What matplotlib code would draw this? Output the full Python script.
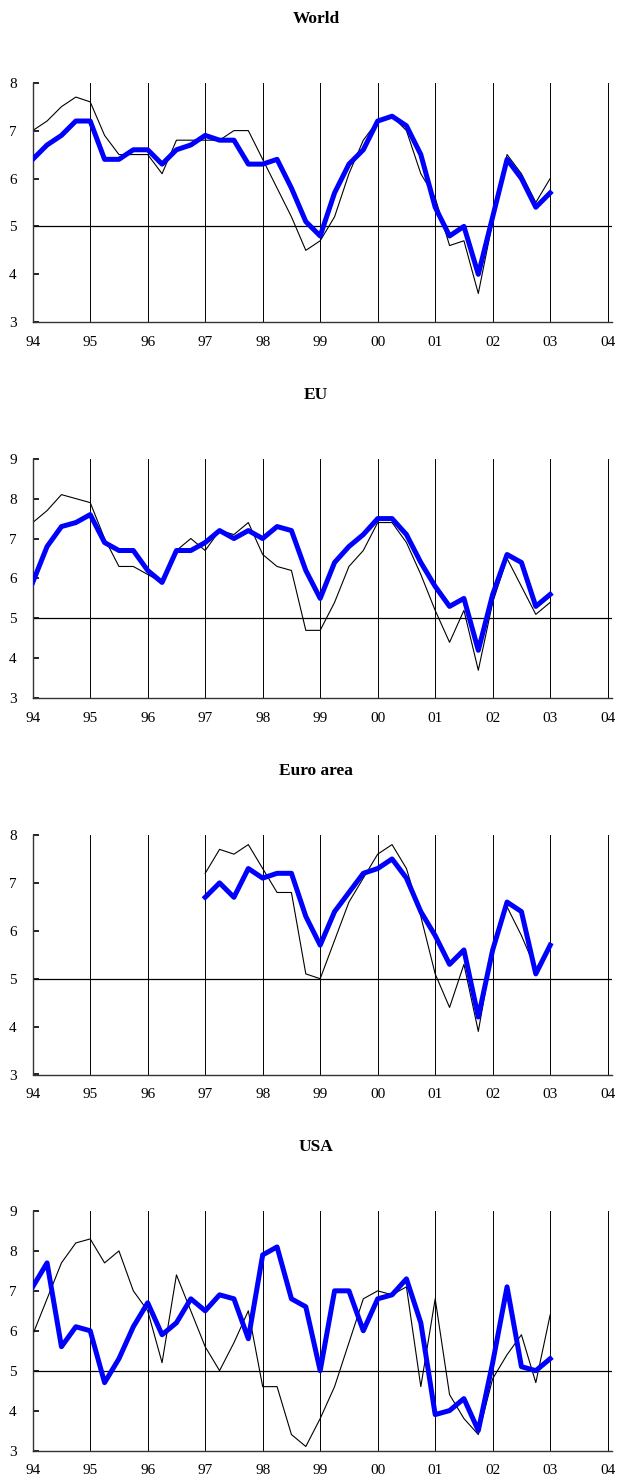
import numpy as np
import matplotlib
matplotlib.use("Agg")
import matplotlib.pyplot as plt

# quarterly observations, 94Q1 .. 03Q1
quarters = np.arange(37) * 0.25 + 1994
year_ticks = list(range(1994, 2005))
year_labels = ["94", "95", "96", "97", "98", "99", "00", "01", "02", "03", "04"]

titles = ["World", "EU", "Euro area", "USA"]

world_blue = [6.4, 6.7, 6.9, 7.2, 7.2, 6.4, 6.4, 6.6, 6.6, 6.3, 6.6, 6.7, 6.9,
              6.8, 6.8, 6.3, 6.3, 6.4, 5.8, 5.1, 4.8, 5.7, 6.3, 6.6, 7.2, 7.3,
              7.1, 6.5, 5.4, 4.8, 5.0, 4.0, 5.2, 6.4, 6.0, 5.4, 5.7]
world_black = [7.0, 7.2, 7.5, 7.7, 7.6, 6.9, 6.5, 6.5, 6.5, 6.1, 6.8, 6.8, 6.8,
               6.8, 7.0, 7.0, 6.4, 5.8, 5.2, 4.5, 4.7, 5.2, 6.1, 6.8, 7.2, 7.3,
               7.0, 6.1, 5.6, 4.6, 4.7, 3.6, 5.1, 6.5, 6.1, 5.5, 6.0]

eu_blue = [5.9, 6.8, 7.3, 7.4, 7.6, 6.9, 6.7, 6.7, 6.2, 5.9, 6.7, 6.7, 6.9,
           7.2, 7.0, 7.2, 7.0, 7.3, 7.2, 6.2, 5.5, 6.4, 6.8, 7.1, 7.5, 7.5,
           7.1, 6.4, 5.8, 5.3, 5.5, 4.2, 5.6, 6.6, 6.4, 5.3, 5.6]
eu_black = [7.4, 7.7, 8.1, 8.0, 7.9, 7.0, 6.3, 6.3, 6.1, 5.9, 6.7, 7.0, 6.7,
            7.2, 7.1, 7.4, 6.6, 6.3, 6.2, 4.7, 4.7, 5.4, 6.3, 6.7, 7.4, 7.4,
            6.9, 6.1, 5.2, 4.4, 5.2, 3.7, 5.4, 6.5, 5.8, 5.1, 5.4]

nan = float("nan")
euro_blue = [nan] * 12 + [6.7, 7.0, 6.7, 7.3, 7.1, 7.2, 7.2, 6.3, 5.7, 6.4, 6.8,
                          7.2, 7.3, 7.5, 7.1, 6.4, 5.9, 5.3, 5.6, 4.2, 5.6, 6.6,
                          6.4, 5.1, 5.7]
euro_black = [nan] * 12 + [7.2, 7.7, 7.6, 7.8, 7.3, 6.8, 6.8, 5.1, 5.0, 5.8, 6.6,
                           7.1, 7.6, 7.8, 7.3, 6.3, 5.1, 4.4, 5.3, 3.9, 5.6, 6.5,
                           5.9, 5.2, 5.7]

usa_blue = [7.1, 7.7, 5.6, 6.1, 6.0, 4.7, 5.3, 6.1, 6.7, 5.9, 6.2, 6.8, 6.5,
            6.9, 6.8, 5.8, 7.9, 8.1, 6.8, 6.6, 5.0, 7.0, 7.0, 6.0, 6.8, 6.9,
            7.3, 6.2, 3.9, 4.0, 4.3, 3.5, 5.2, 7.1, 5.1, 5.0, 5.3]
usa_black = [5.9, 6.8, 7.7, 8.2, 8.3, 7.7, 8.0, 7.0, 6.5, 5.2, 7.4, 6.5, 5.6,
             5.0, 5.7, 6.5, 4.6, 4.6, 3.4, 3.1, 3.8, 4.6, 5.7, 6.8, 7.0, 6.9,
             7.1, 4.6, 6.8, 4.4, 3.8, 3.4, 4.8, 5.4, 5.9, 4.7, 6.4]

blue_series = [world_blue, eu_blue, euro_blue, usa_blue]
black_series = [world_black, eu_black, euro_black, usa_black]
y_tops = [8, 9, 8, 9]

plt.rcParams['font.family'] = ['Liberation Serif', 'DejaVu Serif']

fig = plt.figure(figsize=(6.32, 14.81), dpi=100)
H = 1481.0
tops_px = [82.7, 458.7, 835.0, 1211.0]
panel_h = 239.5

for k in range(4):
    top = tops_px[k]
    ax = fig.add_axes([32.7 / 632, (H - top - panel_h) / H, 579.0 / 632, panel_h / H])
    ax.set_xlim(1994, 2004.07)
    ax.set_ylim(3, y_tops[k])

    for yr in year_ticks[1:]:
        ax.axvline(yr, color='black', lw=0.7, zorder=1)
    ax.axhline(5, color='black', lw=0.9, zorder=1)

    ax.plot(quarters, black_series[k], color='black', lw=0.8, zorder=2)
    ax.plot(quarters, blue_series[k], color='#0000ff', lw=3.6, zorder=3)

    ax.set_xticks(year_ticks)
    ax.set_xticklabels(year_labels)
    ax.set_yticks(range(3, y_tops[k] + 1))
    ax.tick_params(axis='x', length=0, pad=10, labelsize=11)
    ax.tick_params(axis='y', direction='in', length=4, width=1.2, pad=17, labelsize=11)
    for lab in ax.get_yticklabels():
        lab.set_horizontalalignment('left')
    ax.spines['top'].set_visible(False)
    ax.spines['right'].set_visible(False)
    ax.spines['left'].set_color('#333333')
    ax.spines['bottom'].set_color('#333333')
    ax.spines['left'].set_linewidth(1.0)
    ax.spines['bottom'].set_linewidth(1.0)

    fig.text(0.5, 1 - (top - 64) / H, titles[k], ha='center', va='center',
             fontsize=12.5, fontweight='bold')

fig.savefig('out.png', dpi=100)
